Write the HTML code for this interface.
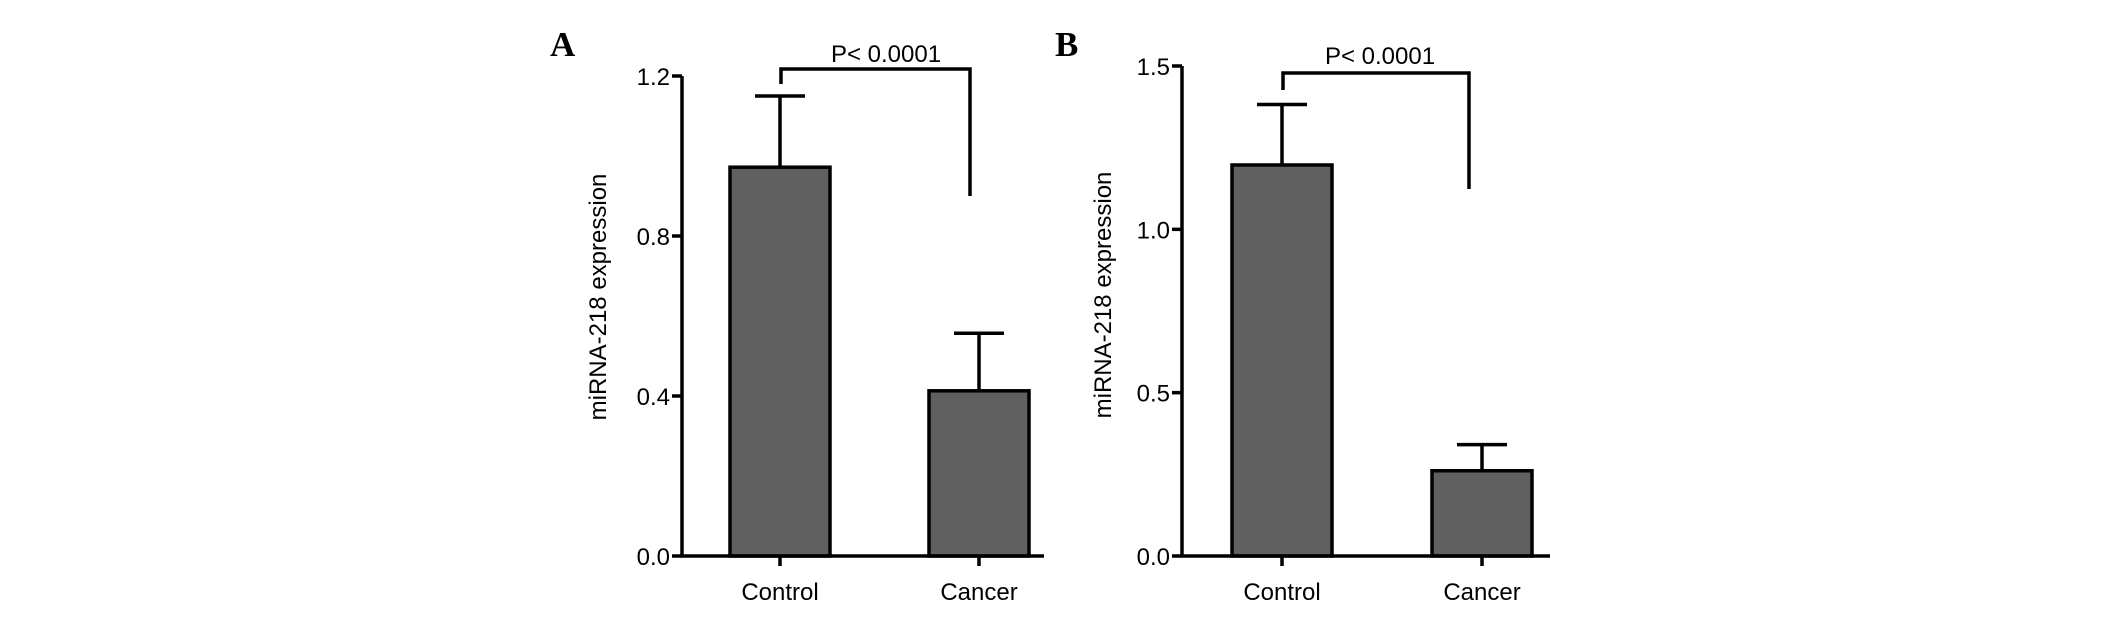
<!DOCTYPE html>
<html><head><meta charset="utf-8"><style>
html,body{margin:0;padding:0;background:#fff;}
svg{display:block;}
text{font-family:"Liberation Sans",Arial,sans-serif;fill:#000;}
</style></head><body>
<svg id="fig" width="2126" height="636" viewBox="0 0 2126 636"></svg>
<script>
const categories = ["Control","Cancer"];
const aMeans = [0.972, 0.413];
const aErrors = [0.178, 0.144];
const aTicks = ["0.0","0.4","0.8","1.2"];
const bMeans = [1.197, 0.261];
const bErrors = [0.185, 0.080];
const bTicks = ["0.0","0.5","1.0","1.5"];

const NS="http://www.w3.org/2000/svg";
const svg=document.getElementById('fig');
function mk(tag,attrs,parent){const e=document.createElementNS(NS,tag);for(const k in attrs)e.setAttribute(k,attrs[k]);(parent||svg).appendChild(e);return e;}

function panel(cfg){
  const g=mk('g',{});
  
  
  const y=v=>cfg.y0-(v/cfg.ymax)*(cfg.y0-cfg.ytop);
  const sw=3.5;
  const L=mk('text',{x:cfg.letterX,y:56,style:'font-family:"Liberation Serif",serif;font-size:35px;font-weight:bold;'},g);
  L.textContent=cfg.letter;
  
  
  cfg.means.forEach((m,i)=>{
    const cx=cfg.centers[i];
    const r=mk('rect',{x:cx-50,y:y(m),width:100,height:cfg.y0-y(m),fill:'#606060',stroke:'#000','stroke-width':sw},g);
    
    
    const eTop=y(m+cfg.errs[i]);
    const e=mk('path',{d:`M${cx},${y(m)}V${eTop}M${cx-25},${eTop}H${cx+25}`,stroke:'#000','stroke-width':sw,fill:'none'},g);
    
    
    const t=mk('path',{d:`M${cx},${cfg.y0}V${cfg.y0+10}`,stroke:'#000','stroke-width':sw},g);
    
    
    const xl=mk('text',{x:cx,y:600,'font-size':24,'text-anchor':'middle'},g);
    xl.textContent=categories[i];
    
    
  });
  const ax=mk('path',{d:`M${cfg.ax},${cfg.ytop}V${cfg.y0}H${cfg.xend}`,stroke:'#000','stroke-width':sw,fill:'none'},g);
  
  
  cfg.ticks.forEach((lab)=>{
    const v=parseFloat(lab);
    const tk=mk('path',{d:`M${cfg.ax-10},${y(v)}H${cfg.ax}`,stroke:'#000','stroke-width':sw},g);
    
    
    const tl=mk('text',{x:cfg.ax-12,y:y(v)+9,'font-size':24,'text-anchor':'end'},g);
    tl.textContent=lab;
    
    
  });
  const yt=mk('text',{x:0,y:0,'font-size':24,'text-anchor':'middle',transform:`translate(${cfg.titleX},${cfg.titleY}) rotate(-90)`},g);
  yt.textContent='miRNA-218 expression';
  
  
  const c0=cfg.centers[0];
  const br=mk('path',{d:`M${c0+1},${cfg.brL}V${cfg.brY}H${cfg.brRx}V${cfg.brR}`,stroke:'#000','stroke-width':sw,fill:'none'},g);
  
  
  const p=mk('text',{x:cfg.pX,y:cfg.pY,'font-size':24,'text-anchor':'middle'},g);
  p.textContent='P< 0.0001';
  
  
}
panel({letter:'A',letterX:550,means:aMeans,errs:aErrors,ticks:aTicks,ymax:1.2,y0:556,ytop:76,ax:682,xend:1044,centers:[780,979],titleX:606,titleY:297,brY:69,brL:84,brRx:970,brR:196,pX:886,pY:62});
panel({letter:'B',letterX:1055,means:bMeans,errs:bErrors,ticks:bTicks,ymax:1.5,y0:556,ytop:66,ax:1182,xend:1550,centers:[1282,1482],titleX:1111,titleY:295,brY:73,brL:90,brRx:1469,brR:189,pX:1380,pY:64});
</script>
</body></html>
